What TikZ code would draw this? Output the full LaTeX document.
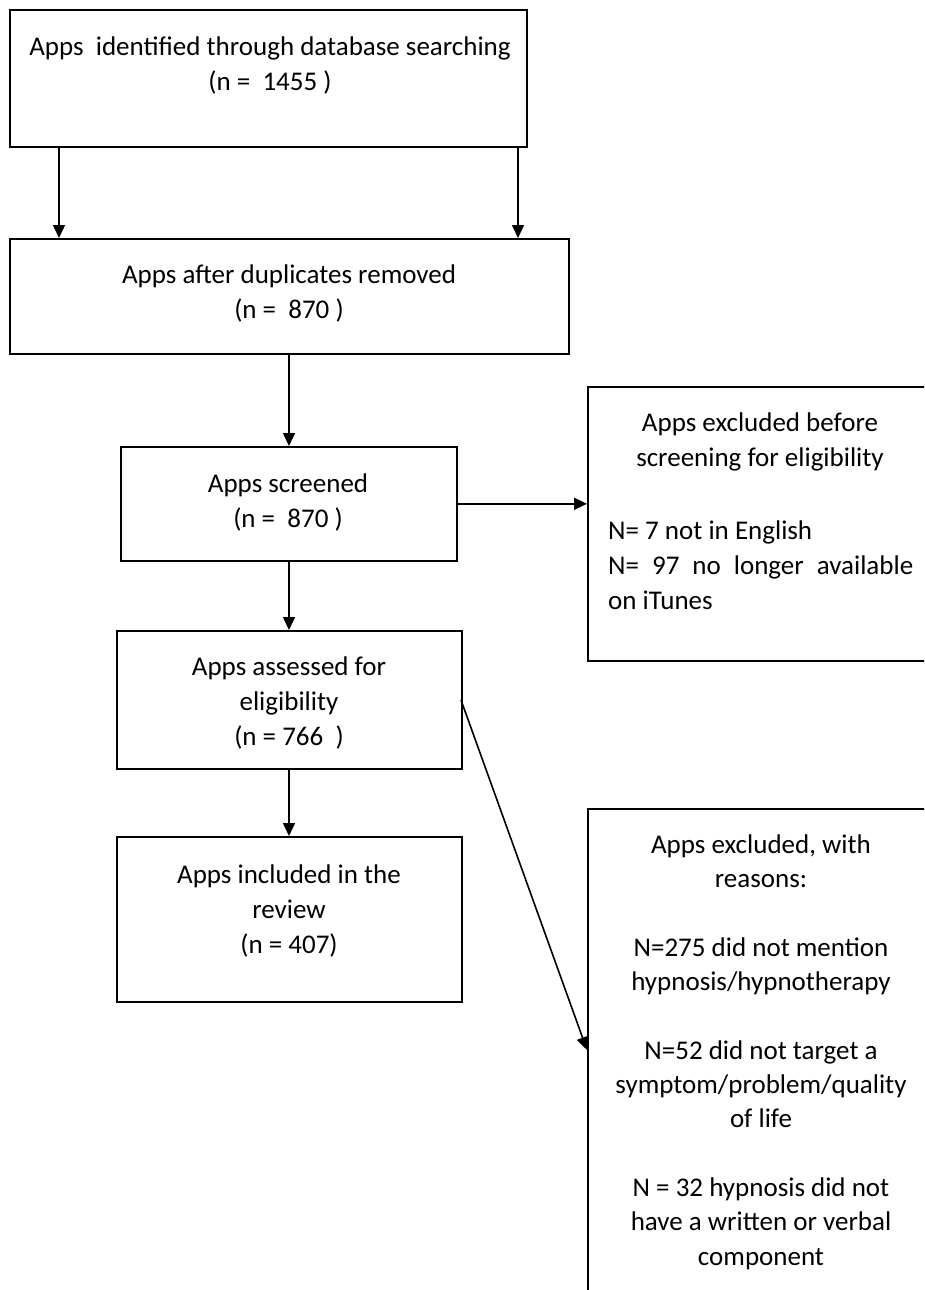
\documentclass[tikz,border=0pt]{standalone}
\usepackage{fontspec}
\setmainfont{Carlito}
\usetikzlibrary{arrows.meta}
\tikzset{
  box/.style={draw, line width=1.6pt, rectangle, inner sep=0pt, anchor=north west},
  txt/.style={align=center, inner sep=0pt, font=\fontsize{27}{35}\selectfont},
  arr/.style={line width=1.6pt, -{Triangle[length=13pt,width=12pt]}}
}
\begin{document}
\begin{tikzpicture}[x=1pt,y=-1pt]
\useasboundingbox (0,0) rectangle (924,1290);
\clip (0,0) rectangle (924,1290);
% boxes
\node[box, minimum width=517pt, minimum height=137pt] (b1) at (9,9) {};
\node[box, minimum width=559pt, minimum height=115pt] (b2) at (9,238) {};
\node[box, minimum width=336pt, minimum height=114pt] (b3) at (120,446) {};
\node[box, minimum width=350pt, minimum height=274pt] (b4) at (587,386) {};
\node[box, minimum width=345pt, minimum height=138pt] (b5) at (116,630) {};
\node[box, minimum width=345pt, minimum height=165pt] (b6) at (116,836) {};
\node[box, minimum width=350pt, minimum height=520pt] (b7) at (587,808) {};
% texts
\node[txt] (t1) at (270,65.5) {Apps\ \ identified through database searching\\(n =\ \ 1455 )};
\node[txt] (t2) at (289,293.5) {Apps after duplicates removed\\(n =\ \ 870 )};
\node[txt] (t3) at (288,502) {Apps screened\\(n =\ \ 870 )};
\node[txt] (t4a) at (760,441.5) {Apps excluded before\\screening for eligibility};
\node[txt, align=left, anchor=west] (t4b) at (608,565) {N= 7 not in English\\\makebox[305pt][s]{N=\ 97\ no\ longer\ available}\\on iTunes};
\node[txt] (t5) at (289,703) {Apps assessed for\\eligibility\\(n = 766\ \ )};
\node[txt] (t6) at (289,911) {Apps included in the\\review\\(n = 407)};
\node[txt, font=\fontsize{27}{34.3}\selectfont] (t7) at (761,1052) {Apps excluded, with\\reasons:\\[34.3pt]N=275 did not mention\\hypnosis/hypnotherapy\\[34.3pt]N=52 did not target a\\symptom/problem/quality\\of life\\[34.3pt]N = 32 hypnosis did not\\have a written or verbal\\component};
% connectors
\coordinate (s1) at (59,146); \coordinate (e1) at (59,238);
\coordinate (s2) at (518,146); \coordinate (e2) at (518,238);
\draw[arr] (s1) -- (e1);
\draw[arr] (s2) -- (e2);
\draw[arr] (b2.south -| 289,0) -- (b3.north -| 289,0);
\draw[arr] (b3.east) -- (b3.east -| b4.west);
\draw[arr] (b3.south -| 289,0) -- (b5.north -| 289,0);
\draw[arr] (b5.south -| 289,0) -- (b6.north -| 289,0);
\coordinate (d1) at (461,700); \coordinate (d2) at (587,1050);
\draw[arr] (d1) -- (d2);
\end{tikzpicture}
\end{document}
